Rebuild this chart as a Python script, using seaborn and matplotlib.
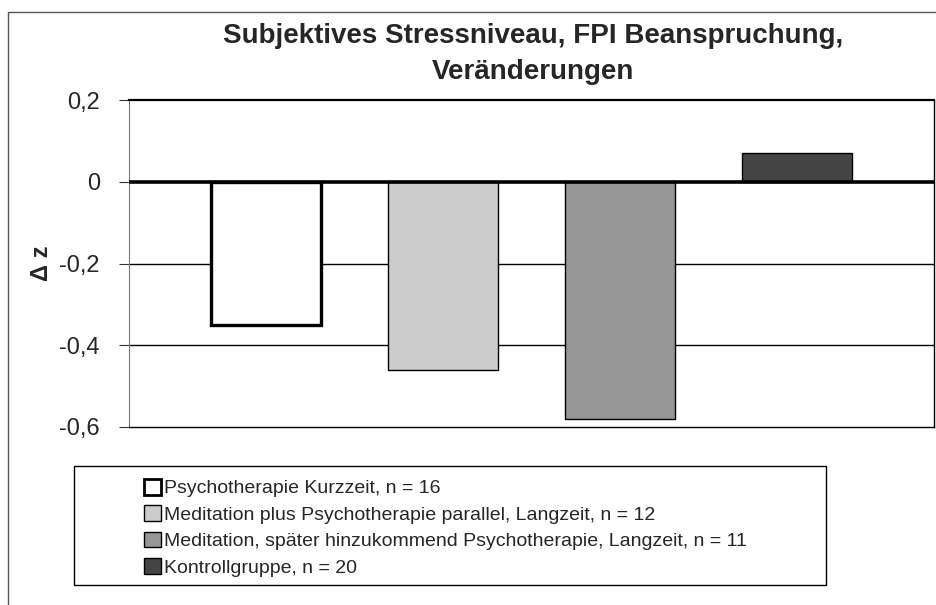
import matplotlib
matplotlib.use("Agg")
import matplotlib.pyplot as plt
import seaborn as sns
from matplotlib.patches import Patch, Rectangle

groups = [
    "Psychotherapie Kurzzeit, n = 16",
    "Meditation plus Psychotherapie parallel, Langzeit, n = 12",
    "Meditation, später hinzukommend Psychotherapie, Langzeit, n = 11",
    "Kontrollgruppe, n = 20",
]
delta_z = [-0.35, -0.46, -0.58, 0.07]
bar_colors = ["#ffffff", "#cccccc", "#969696", "#444444"]
y_ticks = [0.2, 0.0, -0.2, -0.4, -0.6]
y_tick_labels = ["0,2", "0", "-0,2", "-0,4", "-0,6"]

sns.set_theme(style="white")
plt.rcParams["font.family"] = ["Liberation Sans", "DejaVu Sans"]

fig = plt.figure(figsize=(9.37, 6.05), dpi=100)
ax = fig.add_axes([129 / 937, 1 - 427 / 605, 805 / 937, 327 / 605])

sns.barplot(x=groups, y=delta_z, hue=groups, palette=bar_colors, width=0.625,
            legend=False, ax=ax, zorder=3)

# Excel-artige Umrandung der Balken
for i, bar in enumerate(ax.patches):
    bar.set_edgecolor("black")
    bar.set_linewidth(2.4 if i == 0 else 1.0)

ax.set_xlim(-0.775, 3.775)
ax.set_ylim(-0.6, 0.2)
ax.set_xticks([])
ax.set_xlabel("")
ax.set_yticks(y_ticks)
ax.set_yticklabels(y_tick_labels, fontsize=17)
ax.tick_params(axis="y", direction="out", length=7, width=0.8, pad=14, left=True, color="#333333")

for y in [-0.2, -0.4]:
    ax.axhline(y, color="black", lw=1.0, zorder=1)
ax.axhline(0, color="black", lw=2.6, zorder=4)

ax.spines["top"].set_linewidth(1.6)
ax.spines["top"].set_color("black")
ax.spines["left"].set_color("#777777")
ax.spines["left"].set_linewidth(0.8)
ax.spines["right"].set_color("black")
ax.spines["right"].set_linewidth(1.0)
ax.spines["bottom"].set_color("black")
ax.spines["bottom"].set_linewidth(1.0)

ax.set_ylabel("Δ z", fontsize=17, fontweight="bold")
ax.yaxis.set_label_coords(-0.095, 0.5)

fig.text(533 / 937, 1 - 43 / 605, "Subjektives Stressniveau, FPI Beanspruchung,",
         ha="center", va="baseline", fontsize=20, fontweight="bold")
fig.text(533 / 937, 1 - 79 / 605, "Veränderungen",
         ha="center", va="baseline", fontsize=20, fontweight="bold")

# äußerer Rahmen (rechts/unten außerhalb des Bildes)
fig.add_artist(Rectangle((8 / 937, -0.2), 1.2, 1 - 12 / 605 + 0.2, transform=fig.transFigure,
                         fill=False, edgecolor="#555555", lw=1.0))

# Legendenkasten
fig.add_artist(Rectangle((74 / 937, 1 - 585 / 605), 752 / 937, 119 / 605, transform=fig.transFigure,
                         fill=False, edgecolor="black", lw=1.0))
handles = [Patch(facecolor=c, edgecolor="black", lw=2.0 if i == 0 else 1.0)
           for i, c in enumerate(bar_colors)]
fig.legend(handles, groups, loc="upper left", bbox_to_anchor=(144 / 937, 1 - 479 / 605),
           frameon=False, fontsize=14, handlelength=0.85, handleheight=0.85,
           handletextpad=0.2, labelspacing=0.41, borderpad=0, borderaxespad=0)

fig.savefig("out.png", dpi=100)
